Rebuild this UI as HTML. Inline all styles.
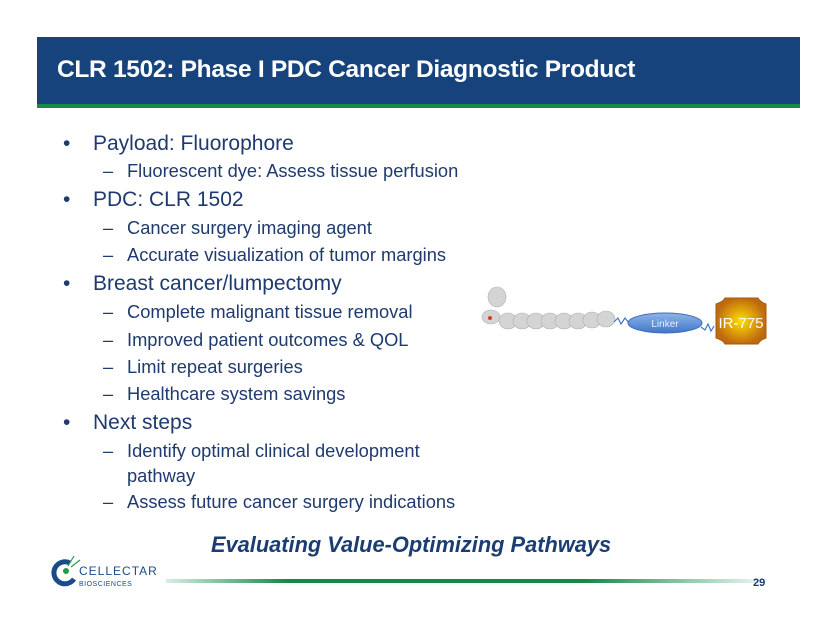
<!DOCTYPE html>
<html><head><style>
body{margin:0;width:820px;height:634px;background:#fff;position:relative;overflow:hidden;font-family:"Liberation Sans",sans-serif;}
.bar{position:absolute;left:37px;top:37px;width:763px;height:67px;background:#17437d;}
.gr{position:absolute;left:37px;top:104px;width:763px;height:4px;background:#138a4a;}
.title{position:absolute;left:57px;top:56px;color:#fff;font-weight:bold;font-size:24.5px;letter-spacing:-0.3px;}
.t{position:absolute;color:#1f3a6e;white-space:nowrap;}
.b{font-size:21px;left:93px;}
.b::before{content:"•";position:absolute;left:-30px;}
.s{font-size:18.3px;left:127px;}
.s.d::before{content:"–";position:absolute;left:-24px;}
</style></head><body>
<div class="bar"></div><div class="gr"></div>
<div class="title">CLR 1502: Phase I PDC Cancer Diagnostic Product</div>
<div class="t b" style="top:132px">Payload: Fluorophore</div>
<div class="t s d" style="top:160px">Fluorescent dye: Assess tissue perfusion</div>
<div class="t b" style="top:188px">PDC: CLR 1502</div>
<div class="t s d" style="top:217px">Cancer surgery imaging agent</div>
<div class="t s d" style="top:244px">Accurate visualization of tumor margins</div>
<div class="t b" style="top:272px">Breast cancer/lumpectomy</div>
<div class="t s d" style="top:301px">Complete malignant tissue removal</div>
<div class="t s d" style="top:329px">Improved patient outcomes &amp; QOL</div>
<div class="t s d" style="top:356px">Limit repeat surgeries</div>
<div class="t s d" style="top:383px">Healthcare system savings</div>
<div class="t b" style="top:411px">Next steps</div>
<div class="t s d" style="top:440px">Identify optimal clinical development</div>
<div class="t s" style="top:465px">pathway</div>
<div class="t s d" style="top:491px">Assess future cancer surgery indications</div>
<div class="t" style="left:211px;top:532px;font-size:21.8px;font-weight:bold;font-style:italic;color:#1b3d72">Evaluating Value-Optimizing Pathways</div>
<svg style="position:absolute;left:0;top:0" width="820" height="634">
<defs>
<linearGradient id="g" x1="0" x2="1"><stop offset="0" stop-color="#138a4a" stop-opacity="0.15"/><stop offset="0.2" stop-color="#138a4a"/><stop offset="0.7" stop-color="#138a4a"/><stop offset="1" stop-color="#138a4a" stop-opacity="0.05"/></linearGradient>
<radialGradient id="o"><stop offset="0" stop-color="#ffe000"/><stop offset="1" stop-color="#c06a10"/></radialGradient>
<linearGradient id="l" x1="0" y1="0" x2="0" y2="1"><stop offset="0" stop-color="#8fb4e8"/><stop offset="1" stop-color="#3f77c8"/></linearGradient>
</defs>
<rect x="166" y="579" width="600" height="4" fill="url(#g)"/>
<text x="753" y="586" font-size="11" font-weight="bold" fill="#1b3d72" font-family="Liberation Sans">29</text>
<path d="M70,563 A11,11 0 1 0 74,579" fill="none" stroke="#1b4a8a" stroke-width="5"/>
<circle cx="66" cy="571" r="3" fill="#2a9a4a"/>
<path d="M68,566 L74,556 M71,567 L80,560" stroke="#2a9a4a" stroke-width="1.2"/>
<text x="79" y="575" font-size="12" fill="#1b4a8a" font-family="Liberation Sans" letter-spacing="1">CELLECTAR</text>
<text x="79" y="586" font-size="7" fill="#1b4a8a" font-family="Liberation Sans" letter-spacing="0.5">BIOSCIENCES</text>
<g fill="#d4d4d4" stroke="#b0b0b0" stroke-width="0.6">
<ellipse cx="497" cy="297" rx="9" ry="10"/><ellipse cx="491" cy="317" rx="9" ry="7"/>
<ellipse cx="508" cy="321" rx="9" ry="8"/><ellipse cx="522" cy="321" rx="9" ry="8"/><ellipse cx="536" cy="321" rx="9" ry="8"/><ellipse cx="550" cy="321" rx="9" ry="8"/><ellipse cx="564" cy="321" rx="9" ry="8"/><ellipse cx="578" cy="321" rx="9" ry="8"/><ellipse cx="592" cy="320" rx="9" ry="8"/><ellipse cx="606" cy="319" rx="9" ry="8"/>
</g>
<circle cx="490" cy="318" r="2" fill="#d04030"/>
<polyline points="614,322 618,318 621,324 625,318 629,323" fill="none" stroke="#3f77c8" stroke-width="1.2"/>
<ellipse cx="665" cy="323" rx="37" ry="10" fill="url(#l)" stroke="#3f6fb8"/>
<text x="665" y="327" font-size="10" fill="#e8f0ff" text-anchor="middle" font-family="Liberation Sans">Linker</text>
<polyline points="701,327 705,330 708,324 711,331 714,326" fill="none" stroke="#3f77c8" stroke-width="1.2"/>
<path d="M725,298 L758,298 Q760,302 766,304 L766,338 Q760,340 758,344 L725,344 Q723,340 716,338 L716,304 Q723,302 725,298 Z" fill="url(#o)" stroke="#a05a10"/>
<text x="741" y="328" font-size="15" fill="#fff" text-anchor="middle" font-family="Liberation Sans">IR-775</text>
</svg>
</body></html>
